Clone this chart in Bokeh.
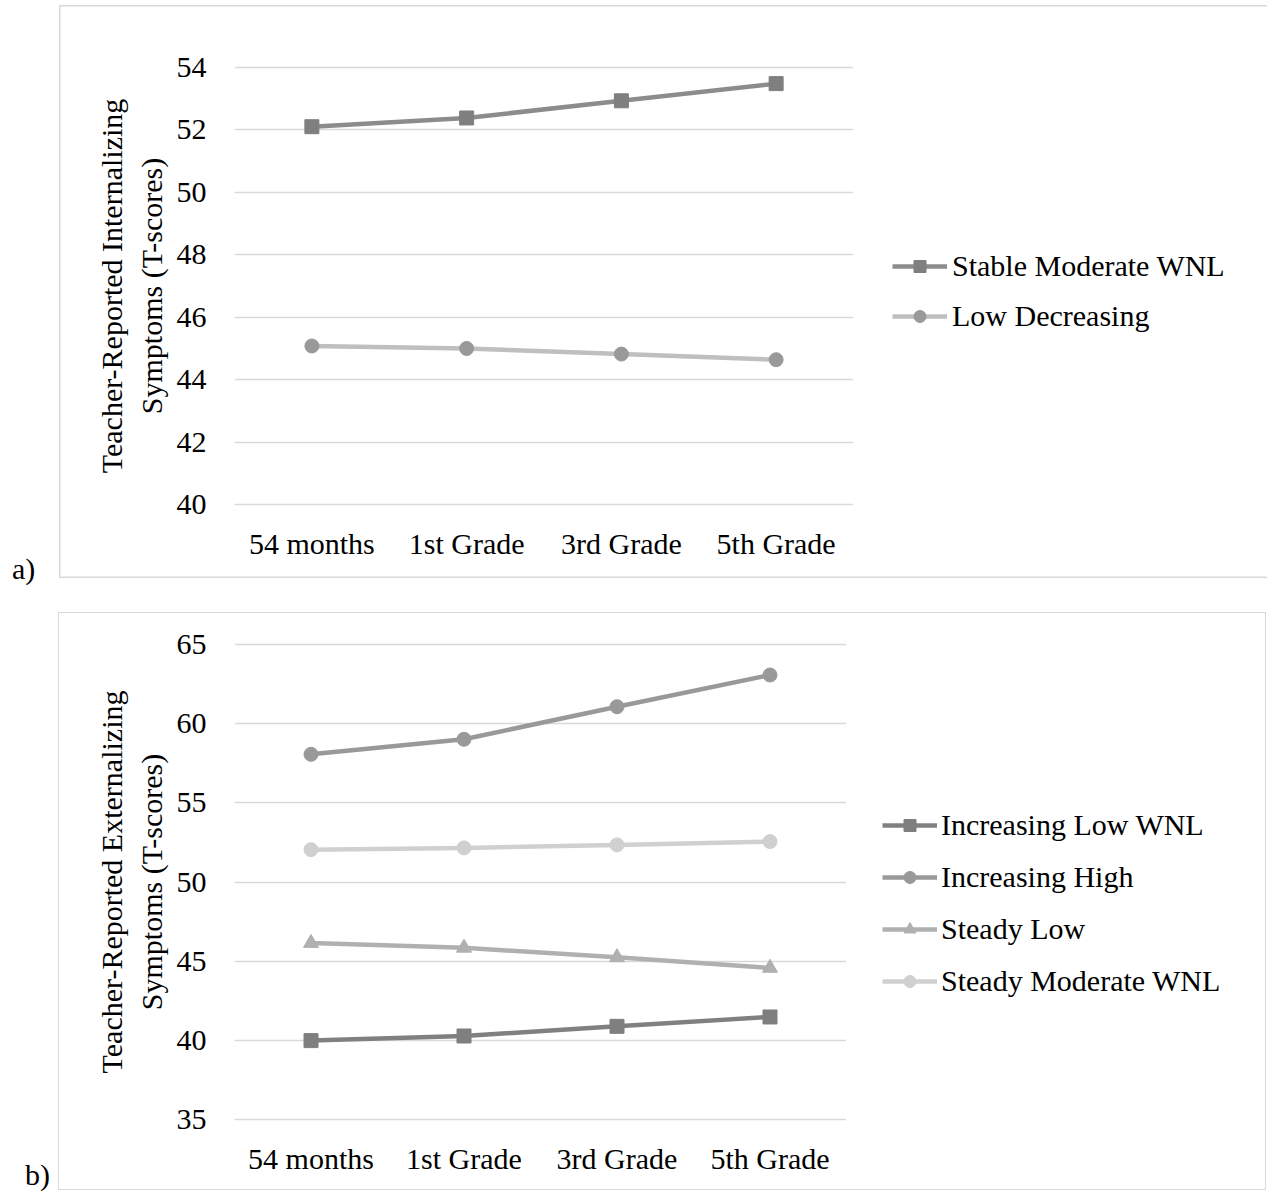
from bokeh.plotting import figure
from bokeh.models import FixedTicker, Range1d, Legend, LegendItem, Div
from bokeh.layouts import column, row
from bokeh.embed import file_html
from bokeh.resources import INLINE

# ---------------- data ----------------
categories = ["54 months", "1st Grade", "3rd Grade", "5th Grade"]

# panel a) internalizing
stable_moderate_wnl = [52.10, 52.38, 52.93, 53.48]
low_decreasing = [45.08, 45.00, 44.82, 44.64]
yticks_a = [40, 42, 44, 46, 48, 50, 52, 54]

# panel b) externalizing
increasing_low_wnl = [40.00, 40.29, 40.90, 41.49]
increasing_high = [58.05, 59.00, 61.05, 63.05]
steady_low = [46.15, 45.85, 45.25, 44.58]
steady_moderate_wnl = [52.04, 52.15, 52.34, 52.55]
yticks_b = [35, 40, 45, 50, 55, 60, 65]

FONT = "Liberation Serif"
FS = "30px"
GRID = "#d9d9d9"


def draw_series(p, series, visible=True):
    out = []
    for name, vals, lc, marker, mc, ms in series:
        rl = p.line(categories, vals, line_color=lc, line_width=4.5, line_join="round",
                    visible=visible)
        rm = p.scatter(categories, vals, marker=marker, size=ms, fill_color=mc,
                       line_color=mc, visible=visible)
        out.append((name, rl, rm))
    return out


def make_plot(width, height, mb, yrange, yticks, ylabel, series):
    p = figure(x_range=categories, y_range=Range1d(*yrange), width=width, height=height,
               output_backend="svg", toolbar_location=None,
               min_border_left=mb[0], min_border_right=mb[1],
               min_border_top=mb[2], min_border_bottom=mb[3])
    p.outline_line_color = None
    p.background_fill_alpha = 0
    p.border_fill_alpha = 0
    p.xgrid.grid_line_color = None
    p.ygrid.grid_line_color = GRID
    p.ygrid.grid_line_width = 1.5
    p.yaxis.ticker = FixedTicker(ticks=yticks)
    for ax in (p.xaxis[0], p.yaxis[0]):
        ax.axis_line_color = None
        ax.major_tick_line_color = None
        ax.minor_tick_line_color = None
        ax.major_tick_out = 0
        ax.major_tick_in = 0
        ax.major_label_text_font = FONT
        ax.major_label_text_font_size = FS
        ax.major_label_text_color = "black"
    p.xaxis.major_label_standoff = 20
    p.yaxis.major_label_standoff = 28
    p.yaxis.axis_label = ylabel
    p.yaxis.axis_label_text_font = FONT
    p.yaxis.axis_label_text_font_size = FS
    p.yaxis.axis_label_text_font_style = "normal"
    p.yaxis.axis_label_text_color = "black"
    p.yaxis.axis_label_standoff = 6
    draw_series(p, series)
    return p


def make_legend_fig(width, height, yrange, series, loc, spacing, standoff):
    lf = figure(x_range=categories, y_range=Range1d(*yrange), width=width, height=height,
                output_backend="svg", toolbar_location=None, min_border=0,
                x_axis_location=None, y_axis_location=None)
    lf.outline_line_color = None
    lf.background_fill_alpha = 0
    lf.border_fill_alpha = 0
    lf.grid.visible = False
    rs = draw_series(lf, series, visible=False)
    items = [LegendItem(label=n, renderers=[rl, rm]) for n, rl, rm in rs]
    legend = Legend(items=items, location=loc, glyph_width=55, glyph_height=30,
                    label_height=30, spacing=spacing, padding=0, margin=0,
                    label_standoff=standoff, border_line_color=None,
                    background_fill_alpha=0, inactive_fill_alpha=0,
                    label_text_font=FONT, label_text_font_size=FS,
                    label_text_color="black")
    lf.add_layout(legend)
    return lf


def tag_div(text, width, height, left, top):
    html = ('<div style="position:absolute; left:%dpx; top:%dpx; '
            'font-family:\'Liberation Serif\'; font-size:30px; line-height:30px; '
            'color:black; white-space:nowrap;">%s</div>' % (left, top, text))
    return Div(text=html, width=width, height=height, margin=0,
               styles={"position": "relative"})


series_a = [
    ("Stable Moderate WNL", stable_moderate_wnl, "#8c8c8c", "square", "#7f7f7f", 14),
    ("Low Decreasing", low_decreasing, "#bfbfbf", "circle", "#999999", 14),
]
series_b = [
    ("Increasing Low WNL", increasing_low_wnl, "#808080", "square", "#7f7f7f", 14),
    ("Increasing High", increasing_high, "#999999", "circle", "#999999", 14),
    ("Steady Low", steady_low, "#b0b0b0", "triangle", "#b0b0b0", 15),
    ("Steady Moderate WNL", steady_moderate_wnl, "#d0d0d0", "circle", "#d0d0d0", 14),
]

yr_a = (39.94, 54.06)
yr_b = (34.9, 65.1)

pa = make_plot(794, 573, (175, 0, 60, 72), yr_a, yticks_a,
               "Teacher-Reported Internalizing\nSymptoms (T-scores)", series_a)
la = make_legend_fig(414, 573, yr_a, series_a, (39, 173), 16, 5)
pb = make_plot(788, 578, (176, 0, 30, 69), yr_b, yticks_b,
               "Teacher-Reported Externalizing\nSymptoms (T-scores)", series_b)
lb = make_legend_fig(420, 578, yr_b, series_b, (36, 123), 18, 4)

# panel a's frame runs off the right edge of the page: no right-hand line
style_a = {"box-shadow": "inset 1.5px 0 0 #d9d9d9, inset 0 1.5px 0 #d9d9d9, "
                         "inset 0 -1.5px 0 #d9d9d9",
           "background-color": "white"}
style_b = {"outline": "1.5px solid #d9d9d9", "outline-offset": "-1.5px"}
box_a = row(pa, la, spacing=0, styles=style_a, margin=(5, 0, 0, 0))
box_b = row(pb, lb, spacing=0, styles=style_b, margin=(34, 0, 0, 0))

div_a = tag_div("a)", 59, 578, 12, 554)
div_b = tag_div("b)", 58, 612, 25, 582)

layout = column(row(div_a, box_a, spacing=0), row(div_b, box_b, spacing=0), spacing=0)
open("out.html", "w").write(file_html(layout, INLINE))
